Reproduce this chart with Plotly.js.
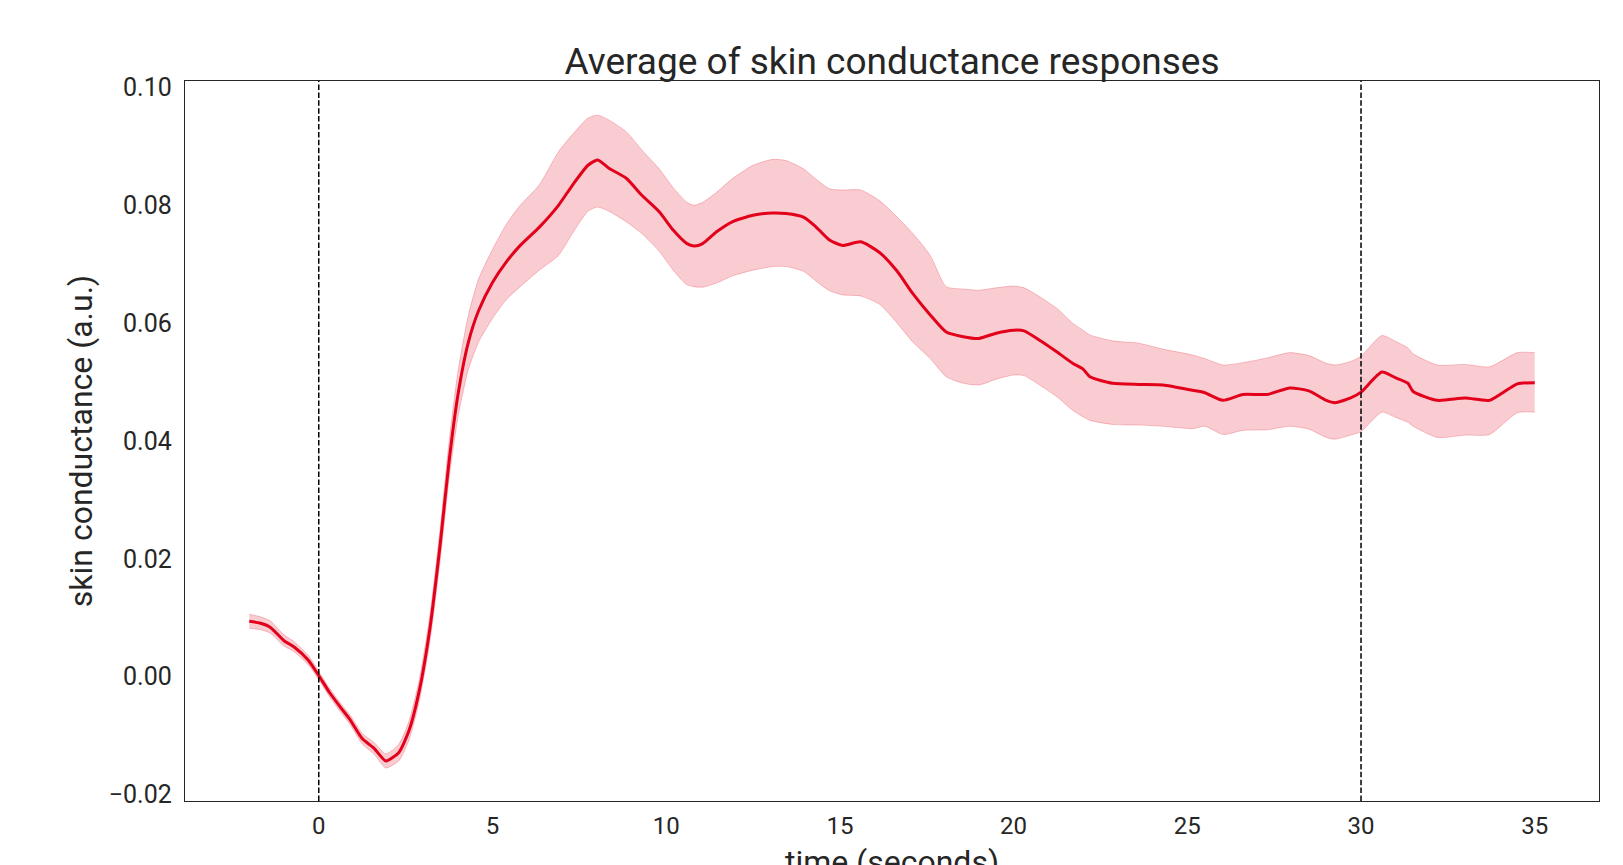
<!DOCTYPE html>
<html>
<head>
<meta charset="utf-8">
<script src="https://cdn.plot.ly/plotly-3.0.1.min.js"></script>
<style>
  html, body { margin: 0; padding: 0; background: #ffffff; }
  #chart { width: 1623px; height: 865px; }
</style>
</head>
<body>
<div id="chart"></div>
<script>
// time (seconds)
const time = [-2.0, -1.7, -1.4, -1.0, -0.7, -0.3, 0.0, 0.3, 0.6, 0.9, 1.25, 1.6, 1.93, 2.3, 2.6, 2.9,
  3.2, 3.5, 3.75, 4.0, 4.3, 4.6, 5.0, 5.4, 5.8, 6.35, 6.9, 7.3, 7.75, 8.03, 8.35, 8.85, 9.3, 9.8,
  10.2, 10.6, 10.8, 11.05, 11.45, 11.9, 12.5, 13.07, 13.45, 13.95, 14.3, 14.7, 15.08, 15.6, 16.14,
  16.65, 17.1, 17.6, 18.06, 18.55, 19.0, 19.5, 20.0, 20.3, 20.75, 21.25, 21.7, 22.0, 22.2, 22.85,
  23.6, 24.3, 25.15, 25.5, 26.03, 26.6, 27.3, 27.95, 28.5, 29.0, 29.25, 29.7, 30.0, 30.6, 31.0,
  31.35, 31.5, 32.2, 33.0, 33.7, 34.5, 35.0];

// mean skin conductance (a.u.)
const meanSC = [0.0094, 0.0091, 0.0084, 0.0061, 0.0050, 0.0028, 0.0002, -0.0026, -0.0050, -0.0073, -0.0105, -0.0122, -0.0143, -0.0129, -0.0091, -0.0022,
  0.0082, 0.0227, 0.0365, 0.0476, 0.0566, 0.0621, 0.0669, 0.0704, 0.0732, 0.0763, 0.0800, 0.0834, 0.0868, 0.0877, 0.0863, 0.0846, 0.0817, 0.0789,
  0.0758, 0.0735, 0.0731, 0.0735, 0.0755, 0.0772, 0.0783, 0.0787, 0.0786, 0.0780, 0.0764, 0.0741, 0.0732, 0.0738, 0.0720,
  0.0688, 0.0650, 0.0614, 0.0585, 0.0577, 0.0574, 0.0583, 0.0588, 0.0587, 0.0571, 0.0551, 0.0532, 0.0522, 0.0509, 0.0498,
  0.0496, 0.0495, 0.0486, 0.0482, 0.0469, 0.0479, 0.0479, 0.0490, 0.0485, 0.0469, 0.0465, 0.0473, 0.0483, 0.0517, 0.0507,
  0.0498, 0.0484, 0.0469, 0.0473, 0.0469, 0.0497, 0.0499];

// upper edge of the shaded band
const upperSC = [0.0106, 0.0102, 0.0095, 0.0071, 0.0059, 0.0036, 0.0009, -0.0019, -0.0043, -0.0065, -0.0096, -0.0112, -0.0131, -0.0115, -0.0075, -0.0003,
  0.0105, 0.0255, 0.0398, 0.0515, 0.0612, 0.0675, 0.0725, 0.0768, 0.0800, 0.0835, 0.0891, 0.0920, 0.0948, 0.0953, 0.0945, 0.0925, 0.0894, 0.0862,
  0.0830, 0.0805, 0.0800, 0.0805, 0.0822, 0.0845, 0.0868, 0.0878, 0.0876, 0.0862, 0.0845, 0.0828, 0.0826, 0.0826, 0.0808,
  0.0780, 0.0752, 0.0715, 0.0662, 0.0658, 0.0656, 0.0660, 0.0663, 0.0660, 0.0645, 0.0625, 0.0600, 0.0588, 0.0580, 0.0570,
  0.0566, 0.0556, 0.0546, 0.0540, 0.0529, 0.0533, 0.0541, 0.0550, 0.0545, 0.0532, 0.0529, 0.0535, 0.0544, 0.0579, 0.0569,
  0.0558, 0.0548, 0.0529, 0.0530, 0.0526, 0.0550, 0.0550];

// lower edge of the shaded band
const lowerSC = [0.0082, 0.0080, 0.0074, 0.0052, 0.0042, 0.0020, -0.0005, -0.0033, -0.0058, -0.0081, -0.0114, -0.0132, -0.0155, -0.0143, -0.0107, -0.0040,
  0.0060, 0.0200, 0.0335, 0.0438, 0.0520, 0.0568, 0.0608, 0.0640, 0.0662, 0.0690, 0.0715, 0.0752, 0.0790, 0.0797, 0.0790, 0.0772, 0.0752, 0.0722,
  0.0690, 0.0665, 0.0662, 0.0661, 0.0668, 0.0680, 0.0690, 0.0696, 0.0696, 0.0688, 0.0672, 0.0655, 0.0648, 0.0646, 0.0632,
  0.0600, 0.0568, 0.0540, 0.0509, 0.0498, 0.0495, 0.0505, 0.0512, 0.0511, 0.0495, 0.0475, 0.0452, 0.0441, 0.0435, 0.0428,
  0.0427, 0.0425, 0.0421, 0.0425, 0.0411, 0.0418, 0.0419, 0.0425, 0.0420, 0.0406, 0.0403, 0.0410, 0.0416, 0.0449, 0.0440,
  0.0432, 0.0425, 0.0406, 0.0410, 0.0411, 0.0448, 0.0449];

// event markers (seconds)
const eventTimes = [0, 30];

const xTickVals = [0, 5, 10, 15, 20, 25, 30, 35];
const yTickVals = [-0.02, 0.00, 0.02, 0.04, 0.06, 0.08, 0.10];
const yTickText = ['\u22120.02', '0.00', '0.02', '0.04', '0.06', '0.08', '0.10'];

const RED = '#e2001a';
const INK = '#262626';

const traces = [
  {
    x: time, y: lowerSC, type: 'scatter', mode: 'lines',
    line: { color: 'rgba(226,0,26,0.22)', width: 1, shape: 'spline', smoothing: 0.6 },
    hoverinfo: 'skip', showlegend: false
  },
  {
    x: time, y: upperSC, type: 'scatter', mode: 'lines',
    fill: 'tonexty', fillcolor: 'rgba(226,0,26,0.2)',
    line: { color: 'rgba(226,0,26,0.22)', width: 1, shape: 'spline', smoothing: 0.6 },
    hoverinfo: 'skip', showlegend: false
  },
  {
    x: time, y: meanSC, type: 'scatter', mode: 'lines',
    line: { color: RED, width: 3, shape: 'spline', smoothing: 0.6 },
    showlegend: false
  }
];

const shapes = eventTimes.map(t => ({
  type: 'line', xref: 'x', yref: 'paper', x0: t, x1: t, y0: 0, y1: 1,
  line: { color: '#000000', width: 1.5, dash: '5.5px,2.4px' }, layer: 'above'
}));

// x-axis title, placed like the reference (partly below the picture edge)
const annotations = [{
  text: 'time (seconds)', xref: 'paper', yref: 'paper',
  x: 0.5, y: -0.056, xanchor: 'center', yanchor: 'top',
  showarrow: false, font: { family: 'Roboto, sans-serif', size: 32, color: INK }
}];

const layout = {
  width: 1623, height: 865,
  paper_bgcolor: '#ffffff', plot_bgcolor: '#ffffff',
  margin: { l: 185, r: 24, t: 81, b: 64, pad: 0 },
  font: { family: 'Roboto, sans-serif', color: INK, size: 24 },
  title: {
    text: 'Average of skin conductance responses',
    font: { family: 'Roboto, sans-serif', size: 37, color: INK },
    xref: 'paper', x: 0.5, xanchor: 'center',
    yref: 'container', y: 1 - 74 / 865, yanchor: 'bottom'
  },
  xaxis: {
    range: [-3.85, 36.85],
    tickvals: xTickVals, ticktext: xTickVals.map(String),
    ticks: '', showgrid: false, zeroline: false,
    showline: true, mirror: true, linecolor: INK, linewidth: 1.25,
    tickfont: { size: 24, color: INK }, ticklabelstandoff: 3,
    automargin: false
  },
  yaxis: {
    range: [-0.0211, 0.1011],
    tickvals: yTickVals, ticktext: yTickText,
    ticks: '', showgrid: false, zeroline: false,
    showline: true, mirror: true, linecolor: INK, linewidth: 1.25,
    tickfont: { size: 25, color: INK }, ticklabelstandoff: 7,
    title: { text: 'skin conductance (a.u.)', font: { size: 32, color: INK }, standoff: 6 },
    automargin: false
  },
  shapes: shapes,
  annotations: annotations,
  showlegend: false
};

Plotly.newPlot('chart', traces, layout, { displayModeBar: false, staticPlot: true });
</script>
</body>
</html>
